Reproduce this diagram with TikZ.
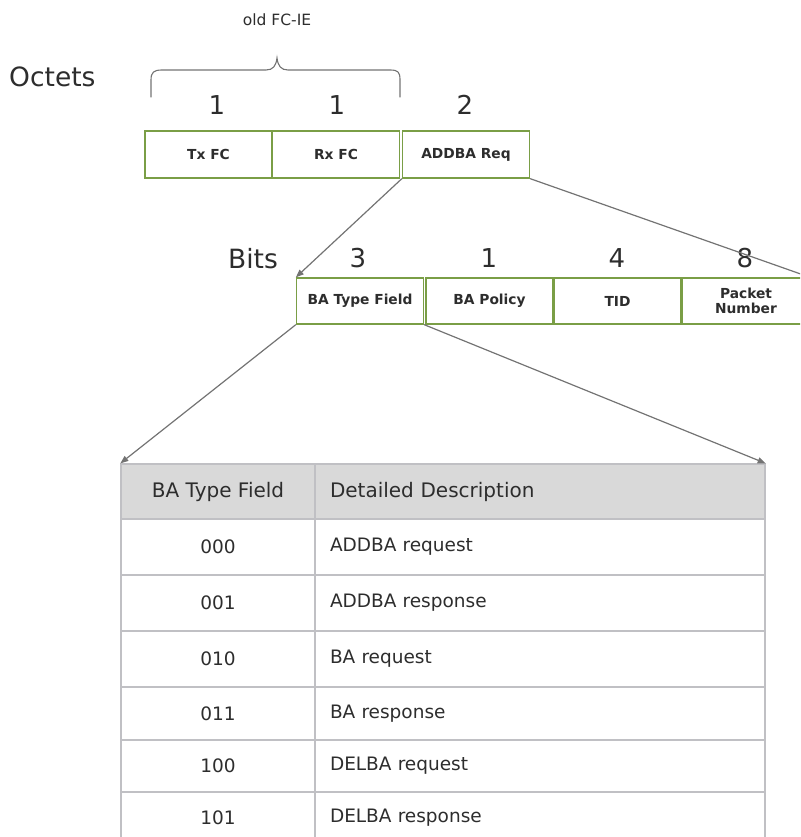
\documentclass[tikz,border=0pt]{standalone}
\usepackage{fontspec}
\setmainfont{DejaVu Sans}
\usetikzlibrary{arrows.meta}
\definecolor{boxgreen}{RGB}{122,158,70}
\definecolor{txt}{RGB}{45,45,45}
\definecolor{gridgray}{RGB}{192,192,196}
\definecolor{hdrgray}{RGB}{217,217,217}
\definecolor{linegray}{RGB}{115,115,115}
\begin{document}
\begin{tikzpicture}[x=1pt,y=-1pt,
  field/.style={draw=boxgreen, line width=1.3pt, inner sep=0pt, text=txt,
    font=\fontsize{13.8}{15}\selectfont\bfseries, align=center, minimum width=127pt},
  numlbl/.style={text=txt, font=\fontsize{26}{28}\selectfont, inner sep=0pt},
  biglbl/.style={text=txt, font=\fontsize{26.5}{28}\selectfont, inner sep=0pt},
  conn/.style={draw=linegray, line width=1.2pt},
  arr/.style={conn, -{Triangle[length=8pt,width=6pt]}},
  cell/.style={draw=gridgray, line width=1.3pt, inner sep=0pt, text=txt,
    font=\fontsize{18.5}{20}\selectfont},
  hcell/.style={cell, fill=hdrgray, font=\fontsize{20}{22}\selectfont},
]
\useasboundingbox (0,0) rectangle (800,837);
\clip (0,0) rectangle (800,837);

% top labels
\node[text=txt, font=\fontsize{15.5}{17}\selectfont] (oldfc) at (277,20) {old FC-IE};
\node[biglbl, anchor=west] (octets) at (9,77) {Octets};
\draw[conn, line width=1.1pt, line cap=round] (151,97) -- (151,80) .. controls (151,72) and (154,70) .. (162,70)
  -- (266,70) .. controls (273,70) and (276,66) .. (277,58)
  .. controls (278,66) and (281,70) .. (288,70) -- (390,70)
  .. controls (398,70) and (400,72) .. (400,80) -- (400,97);

\node[numlbl] (n1) at (217,105) {1};
\node[numlbl] (n2) at (337,105) {1};
\node[numlbl] (n3) at (465,105) {2};

% octet fields
\node[field, minimum height=47pt] (tx) at (208.5,154.5) {Tx FC};
\node[field, minimum height=47pt] (rx) at (336,154.5) {Rx FC};
\node[field, minimum height=47pt] (addba) at (466,154.5) {ADDBA Req};

% bits labels
\node[biglbl, anchor=west] (bits) at (228,259) {Bits};
\node[numlbl] (b1) at (358,258) {3};
\node[numlbl] (b2) at (489,258) {1};
\node[numlbl] (b3) at (617,258) {4};
\node[numlbl] (b4) at (745,258) {8};

% bit fields
\node[field, minimum height=46pt] (batf) at (360,301) {BA Type Field};
\node[field, minimum height=46pt] (pol) at (489.5,301) {BA Policy};
\node[field, minimum height=46pt] (tid) at (617.5,301) {TID};
\node[field, minimum height=46pt] (pn) at (746,301) {Packet\\Number};

% table header
\node[hcell, minimum width=194pt, minimum height=55pt] (h1) at (218,491.5) {BA Type Field};
\node[hcell, minimum width=450pt, minimum height=55pt, text width=420pt, align=left] (h2) at (540,491.5) {Detailed Description};

% table rows
\foreach \i/\a/\b/\t/\u in {1/000/ADDBA request/519/575, 2/001/ADDBA response/575/631,
  3/010/BA request/631/687, 4/011/BA response/687/740, 5/100/DELBA request/740/792,
  6/101/DELBA response/792/844}{
  \node[cell, minimum width=194pt, minimum height={\u-\t}] (c\i) at (218,{(\t+\u)/2}) {\a};
  \node[cell, minimum width=450pt, minimum height={\u-\t}, text width=420pt, align=left] (d\i) at (540,{(\t+\u)/2}) {\b};
}

% connectors
\draw[arr] (addba.south west) -- (batf.north west);
\draw[conn] (addba.south east) -- (pn.north east);
\draw[arr] (batf.south west) -- (h1.north west);
\draw[arr] (batf.south east) -- (h2.north east);
\end{tikzpicture}
\end{document}
